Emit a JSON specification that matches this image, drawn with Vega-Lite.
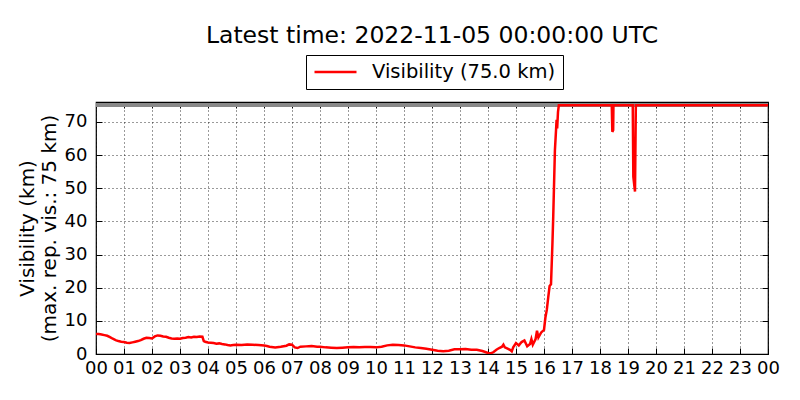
{
  "$schema": "https://vega.github.io/schema/vega-lite/v6.json",
  "width": 672,
  "height": 252,
  "autosize": "none",
  "padding": {"left": 96, "top": 102, "right": 32, "bottom": 46},
  "background": "white",
  "title": {
    "text": "Latest time: 2022-11-05 00:00:00 UTC",
    "font": "DejaVu Sans",
    "fontSize": 23.5,
    "fontWeight": "normal",
    "color": "black",
    "frame": "group",
    "anchor": "middle",
    "offset": 7
  },
  "data": {
    "values": [
      {"hour": 0.0, "vis": 6.0}, {"hour": 0.1, "vis": 6.0}, {"hour": 0.2, "vis": 5.9},
      {"hour": 0.3, "vis": 5.7}, {"hour": 0.4, "vis": 5.5}, {"hour": 0.5, "vis": 5.1},
      {"hour": 0.6, "vis": 4.6}, {"hour": 0.7, "vis": 4.2}, {"hour": 0.8, "vis": 3.9},
      {"hour": 0.9, "vis": 3.7}, {"hour": 1.0, "vis": 3.6}, {"hour": 1.1, "vis": 3.4},
      {"hour": 1.2, "vis": 3.3}, {"hour": 1.3, "vis": 3.5}, {"hour": 1.4, "vis": 3.7},
      {"hour": 1.5, "vis": 3.9}, {"hour": 1.6, "vis": 4.2}, {"hour": 1.7, "vis": 4.6},
      {"hour": 1.8, "vis": 4.9}, {"hour": 1.9, "vis": 4.8}, {"hour": 2.0, "vis": 4.7},
      {"hour": 2.1, "vis": 5.3}, {"hour": 2.2, "vis": 5.6}, {"hour": 2.3, "vis": 5.5},
      {"hour": 2.4, "vis": 5.3}, {"hour": 2.5, "vis": 5.2}, {"hour": 2.6, "vis": 4.9},
      {"hour": 2.7, "vis": 4.7}, {"hour": 2.8, "vis": 4.6}, {"hour": 2.9, "vis": 4.7},
      {"hour": 3.0, "vis": 4.6}, {"hour": 3.1, "vis": 4.8}, {"hour": 3.2, "vis": 4.9},
      {"hour": 3.3, "vis": 5.1}, {"hour": 3.4, "vis": 5.0}, {"hour": 3.5, "vis": 5.2},
      {"hour": 3.6, "vis": 5.1}, {"hour": 3.7, "vis": 5.3}, {"hour": 3.8, "vis": 5.2},
      {"hour": 3.85, "vis": 3.9}, {"hour": 3.9, "vis": 3.7}, {"hour": 4.0, "vis": 3.5},
      {"hour": 4.1, "vis": 3.4}, {"hour": 4.2, "vis": 3.3}, {"hour": 4.3, "vis": 3.1},
      {"hour": 4.4, "vis": 3.2}, {"hour": 4.5, "vis": 3.0}, {"hour": 4.6, "vis": 2.9},
      {"hour": 4.7, "vis": 2.7}, {"hour": 4.8, "vis": 2.6}, {"hour": 4.9, "vis": 2.7},
      {"hour": 5.0, "vis": 2.8}, {"hour": 5.2, "vis": 2.7}, {"hour": 5.4, "vis": 2.9},
      {"hour": 5.6, "vis": 2.8}, {"hour": 5.8, "vis": 2.7}, {"hour": 6.0, "vis": 2.6},
      {"hour": 6.1, "vis": 2.4}, {"hour": 6.2, "vis": 2.2}, {"hour": 6.4, "vis": 2.0},
      {"hour": 6.6, "vis": 2.2}, {"hour": 6.8, "vis": 2.5}, {"hour": 6.9, "vis": 2.9},
      {"hour": 7.0, "vis": 2.8}, {"hour": 7.1, "vis": 2.0}, {"hour": 7.2, "vis": 1.8},
      {"hour": 7.3, "vis": 2.2}, {"hour": 7.5, "vis": 2.3}, {"hour": 7.7, "vis": 2.4},
      {"hour": 7.9, "vis": 2.2}, {"hour": 8.0, "vis": 2.2}, {"hour": 8.2, "vis": 2.0},
      {"hour": 8.4, "vis": 1.9}, {"hour": 8.6, "vis": 1.8}, {"hour": 8.8, "vis": 1.9},
      {"hour": 9.0, "vis": 2.0}, {"hour": 9.2, "vis": 2.1}, {"hour": 9.4, "vis": 2.0},
      {"hour": 9.6, "vis": 2.1}, {"hour": 9.8, "vis": 2.1}, {"hour": 10.0, "vis": 2.0},
      {"hour": 10.2, "vis": 2.2}, {"hour": 10.4, "vis": 2.6}, {"hour": 10.6, "vis": 2.8},
      {"hour": 10.8, "vis": 2.7}, {"hour": 11.0, "vis": 2.6}, {"hour": 11.2, "vis": 2.3},
      {"hour": 11.4, "vis": 2.0}, {"hour": 11.6, "vis": 1.8}, {"hour": 11.8, "vis": 1.6},
      {"hour": 12.0, "vis": 1.3}, {"hour": 12.2, "vis": 1.0}, {"hour": 12.4, "vis": 0.8},
      {"hour": 12.6, "vis": 1.0}, {"hour": 12.8, "vis": 1.4}, {"hour": 13.0, "vis": 1.4},
      {"hour": 13.2, "vis": 1.5}, {"hour": 13.4, "vis": 1.3}, {"hour": 13.6, "vis": 1.3},
      {"hour": 13.8, "vis": 0.9}, {"hour": 14.0, "vis": 0.3}, {"hour": 14.1, "vis": 0.2},
      {"hour": 14.2, "vis": 0.6}, {"hour": 14.3, "vis": 1.3}, {"hour": 14.4, "vis": 1.8},
      {"hour": 14.5, "vis": 2.2}, {"hour": 14.55, "vis": 2.8}, {"hour": 14.6, "vis": 2.0},
      {"hour": 14.7, "vis": 1.6}, {"hour": 14.8, "vis": 1.2}, {"hour": 14.85, "vis": 0.8},
      {"hour": 14.9, "vis": 2.0}, {"hour": 15.0, "vis": 3.3}, {"hour": 15.1, "vis": 2.6},
      {"hour": 15.2, "vis": 3.6}, {"hour": 15.3, "vis": 4.1}, {"hour": 15.4, "vis": 2.3},
      {"hour": 15.5, "vis": 3.0}, {"hour": 15.55, "vis": 4.5}, {"hour": 15.6, "vis": 2.8},
      {"hour": 15.7, "vis": 4.5}, {"hour": 15.75, "vis": 7.0}, {"hour": 15.8, "vis": 5.0},
      {"hour": 15.9, "vis": 6.5}, {"hour": 16.0, "vis": 7.3}, {"hour": 16.05, "vis": 11.0},
      {"hour": 16.1, "vis": 13.3}, {"hour": 16.15, "vis": 17.0}, {"hour": 16.2, "vis": 20.5},
      {"hour": 16.25, "vis": 21.0}, {"hour": 16.3, "vis": 33.0}, {"hour": 16.33, "vis": 41.5},
      {"hour": 16.39, "vis": 61.5}, {"hour": 16.45, "vis": 70.6}, {"hour": 16.47, "vis": 68.0},
      {"hour": 16.5, "vis": 73.0}, {"hour": 16.53, "vis": 75.0}, {"hour": 18.42, "vis": 75.0},
      {"hour": 18.44, "vis": 67.0}, {"hour": 18.47, "vis": 67.5}, {"hour": 18.48, "vis": 75.0},
      {"hour": 19.17, "vis": 75.0}, {"hour": 19.19, "vis": 53.5}, {"hour": 19.25, "vis": 49.0},
      {"hour": 19.28, "vis": 75.0}, {"hour": 24.0, "vis": 75.0}
    ]
  },
  "config": {
    "view": {"stroke": "black", "strokeWidth": 1.2},
    "axis": {
      "domain": false,
      "labelFont": "DejaVu Sans",
      "labelFontSize": 18,
      "labelColor": "black",
      "titleFont": "DejaVu Sans",
      "titleFontSize": 20,
      "titleFontWeight": "normal",
      "titleColor": "black",
      "tickColor": "black",
      "tickSize": -6,
      "tickWidth": 1,
      "gridColor": "black",
      "gridDash": [1, 3],
      "gridWidth": 0.8,
      "gridOpacity": 1
    }
  },
  "layer": [
    {
      "mark": {"type": "rule", "color": "#888888", "strokeWidth": 3},
      "encoding": {
        "x": {
          "datum": 0,
          "type": "quantitative",
          "scale": {"domain": [0, 24], "nice": false},
          "axis": {"orient": "top", "labels": false, "grid": false, "title": null,
                   "values": [0,1,2,3,4,5,6,7,8,9,10,11,12,13,14,15,16,17,18,19,20,21,22,23,24]}
        },
        "x2": {"datum": 24},
        "y": {
          "datum": 75,
          "type": "quantitative",
          "scale": {"domain": [0, 76], "nice": false},
          "axis": {"orient": "right", "labels": false, "grid": false, "title": null,
                   "values": [0,10,20,30,40,50,60,70]}
        }
      }
    },
    {
      "mark": {"type": "line", "strokeWidth": 2.5, "clip": true},
      "encoding": {
        "x": {
          "field": "hour",
          "type": "quantitative",
          "scale": {"domain": [0, 24], "nice": false},
          "axis": {
            "orient": "bottom",
            "title": null,
            "grid": true,
            "values": [0,1,2,3,4,5,6,7,8,9,10,11,12,13,14,15,16,17,18,19,20,21,22,23,24],
            "labelExpr": "datum.value == 24 ? '00' : (datum.value < 10 ? '0' + datum.value : '' + datum.value)",
            "labelPadding": 11,
            "labelOverlap": false,
            "labelFlush": false
          }
        },
        "y": {
          "field": "vis",
          "type": "quantitative",
          "scale": {"domain": [0, 76], "nice": false},
          "axis": {
            "orient": "left",
            "title": ["Visibility (km)", "(max. rep. vis.: 75 km)"],
            "titleLineHeight": 22,
            "titlePadding": 5,
            "grid": true,
            "values": [0,10,20,30,40,50,60,70],
            "labelPadding": 15,
            "labelOverlap": false,
            "labelFlush": false
          }
        },
        "color": {
          "datum": "Visibility (75.0 km)",
          "type": "nominal",
          "scale": {"range": ["#ff0000"]},
          "legend": {
            "orient": "none",
            "legendX": 210,
            "legendY": -47,
            "title": null,
            "strokeColor": "black",
            "fillColor": "white",
            "padding": 7,
            "clipHeight": 20,
            "symbolType": "stroke",
            "symbolSize": 1764,
            "symbolStrokeWidth": 2.5,
            "labelFont": "DejaVu Sans",
            "labelFontSize": 19.5,
            "labelColor": "black",
            "labelOffset": 14,
            "labelLimit": 400
          }
        }
      }
    }
  ],
  "resolve": {"axis": {"x": "independent", "y": "independent"}}
}
